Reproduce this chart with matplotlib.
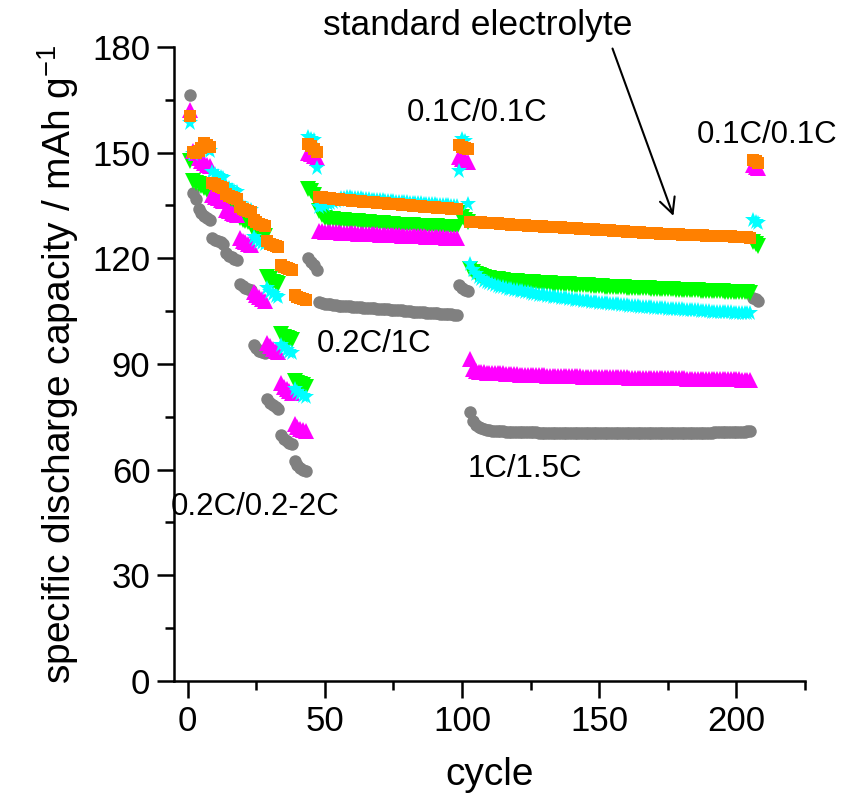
import numpy as np
import matplotlib
matplotlib.use("Agg")
import matplotlib.pyplot as plt
from matplotlib.ticker import MultipleLocator

plt.rcParams['font.family'] = ['Liberation Sans', 'DejaVu Sans']
plt.rcParams['mathtext.fontset'] = 'custom'
plt.rcParams['mathtext.rm'] = 'Liberation Sans'
plt.rcParams['mathtext.it'] = 'Liberation Sans:italic'

cycles = np.arange(1, 209)

# discharge capacity in mAh/g per cycle
# segments: 0.2C/0.2-2C (1-43), 0.1C (44-47), 0.2C/1C (48-98),
#           0.1C (99-102), 1C/1.5C (103-205), 0.1C (206-208)
gray = [
    166.5,
    138.5, 136.8, 134.0, 132.8, 132.0, 131.5, 131.0,
    125.8, 125.2, 124.8, 124.5, 124.2,
    121.5, 120.8, 120.3, 119.9, 119.5,
    112.7, 112.1, 111.7, 111.4, 111.1,
    95.3, 94.4, 93.8, 93.4, 93.0,
    80.2, 79.0, 78.3, 77.8, 77.3,
    69.9, 68.8, 68.2, 67.7, 67.3,
    62.5, 61.3, 60.5, 59.9, 59.5,
    120.0, 119.0, 118.0, 116.8,
    107.6, 107.3, 107.1, 107.0, 106.9, 106.8, 106.7, 106.6, 106.6, 106.5,
    106.4, 106.4, 106.3, 106.2, 106.2, 106.1, 106.0, 106.0, 105.9, 105.8,
    105.8, 105.7, 105.6, 105.6, 105.5, 105.5, 105.4, 105.3, 105.3, 105.2,
    105.2, 105.1, 105.0, 105.0, 104.9, 104.9, 104.8, 104.7, 104.7, 104.6,
    104.6, 104.5, 104.5, 104.4, 104.3, 104.3, 104.2, 104.2, 104.1, 104.0,
    104.0,
    112.3, 111.5, 111.0, 110.6,
    76.3, 73.8, 72.6, 72.0, 71.7, 71.5, 71.3, 71.2, 71.1, 71.0,
    71.0, 70.9, 70.9, 70.8, 70.8, 70.8, 70.7, 70.7, 70.7, 70.7,
    70.6, 70.6, 70.6, 70.6, 70.6, 70.5, 70.5, 70.5, 70.5, 70.5,
    70.5, 70.5, 70.4, 70.4, 70.4, 70.4, 70.4, 70.4, 70.4, 70.4,
    70.4, 70.4, 70.4, 70.4, 70.3, 70.3, 70.3, 70.3, 70.3, 70.3,
    70.3, 70.3, 70.3, 70.3, 70.3, 70.3, 70.3, 70.3, 70.3, 70.3,
    70.3, 70.3, 70.3, 70.3, 70.3, 70.3, 70.3, 70.3, 70.3, 70.3,
    70.3, 70.3, 70.4, 70.4, 70.4, 70.4, 70.4, 70.4, 70.4, 70.4,
    70.4, 70.4, 70.5, 70.5, 70.5, 70.5, 70.5, 70.5, 70.5, 70.6,
    70.6, 70.6, 70.6, 70.6, 70.7, 70.7, 70.7, 70.7, 70.8, 70.8,
    70.8, 70.9, 70.9,
    108.8, 108.4, 108.0,
]

green = [
    147.5,
    142.0, 141.5, 141.0, 140.5, 140.0, 139.5, 139.2,
    137.8, 137.2, 136.8, 136.4, 136.1,
    134.5, 134.0, 133.6, 133.2, 132.9,
    131.5, 131.0, 130.5, 130.2, 129.9,
    127.8, 127.2, 126.8, 126.5, 126.2,
    114.8, 114.0, 113.4, 113.0, 112.6,
    98.5, 97.8, 97.3, 97.0, 96.7,
    85.2, 84.6, 84.2, 83.9, 83.6,
    139.8, 139.0, 138.0, 136.0,
    133.5, 132.2, 131.5, 131.3, 131.2, 131.1, 131.0, 130.9, 130.9, 130.8,
    130.7, 130.7, 130.6, 130.5, 130.5, 130.4, 130.3, 130.3, 130.2, 130.1,
    130.1, 130.0, 129.9, 129.9, 129.8, 129.8, 129.7, 129.7, 129.6, 129.6,
    129.5, 129.5, 129.5, 129.4, 129.4, 129.3, 129.3, 129.3, 129.2, 129.2,
    129.2, 129.1, 129.1, 129.1, 129.0, 129.0, 129.0, 128.9, 128.9, 128.9,
    128.8,
    132.8, 131.8, 130.8, 130.2,
    117.0, 116.2, 115.6, 115.2, 114.9, 114.7, 114.5, 114.3, 114.2, 114.1,
    114.0, 113.9, 113.8, 113.7, 113.7, 113.6, 113.5, 113.5, 113.4, 113.4,
    113.3, 113.3, 113.2, 113.2, 113.1, 113.1, 113.0, 113.0, 112.9, 112.9,
    112.8, 112.8, 112.7, 112.7, 112.7, 112.6, 112.6, 112.5, 112.5, 112.4,
    112.4, 112.4, 112.3, 112.3, 112.2, 112.2, 112.2, 112.1, 112.1, 112.0,
    112.0, 112.0, 111.9, 111.9, 111.8, 111.8, 111.8, 111.7, 111.7, 111.7,
    111.6, 111.6, 111.6, 111.5, 111.5, 111.5, 111.4, 111.4, 111.4, 111.3,
    111.3, 111.3, 111.2, 111.2, 111.2, 111.1, 111.1, 111.1, 111.0, 111.0,
    111.0, 110.9, 110.9, 110.9, 110.8, 110.8, 110.8, 110.7, 110.7, 110.7,
    110.6, 110.6, 110.6, 110.5, 110.5, 110.5, 110.4, 110.4, 110.4, 110.3,
    110.3, 110.3, 110.2,
    124.5, 124.0, 123.6,
]

magenta = [
    162.0,
    150.5, 150.0, 148.5, 147.5, 147.0, 146.6, 146.3,
    138.0, 137.5, 137.0, 136.7, 136.4,
    133.8, 133.3, 133.0, 132.7, 132.4,
    125.8, 125.0, 124.5, 124.1, 123.8,
    110.5, 109.5, 108.9, 108.4, 108.0,
    96.0, 95.0, 94.3, 93.8, 93.4,
    84.5, 83.5, 82.8, 82.3, 81.9,
    73.0, 72.2, 71.6, 71.2, 70.9,
    150.0, 149.5, 149.0, 148.5,
    127.8, 127.7, 127.6, 127.6, 127.5, 127.5, 127.4, 127.4, 127.3, 127.3,
    127.2, 127.2, 127.1, 127.1, 127.0, 127.0, 127.0, 126.9, 126.9, 126.8,
    126.8, 126.8, 126.7, 126.7, 126.6, 126.6, 126.6, 126.5, 126.5, 126.5,
    126.4, 126.4, 126.4, 126.3, 126.3, 126.3, 126.2, 126.2, 126.2, 126.1,
    126.1, 126.1, 126.0, 126.0, 126.0, 126.0, 125.9, 125.9, 125.9, 125.9,
    125.8,
    148.8, 148.2, 147.8, 147.4,
    91.5, 88.6, 88.0, 87.8, 87.7, 87.6, 87.5, 87.5, 87.4, 87.4,
    87.3, 87.3, 87.3, 87.2, 87.2, 87.1, 87.1, 87.1, 87.0, 87.0,
    87.0, 86.9, 86.9, 86.9, 86.8, 86.8, 86.8, 86.8, 86.7, 86.7,
    86.7, 86.7, 86.6, 86.6, 86.6, 86.6, 86.5, 86.5, 86.5, 86.5,
    86.5, 86.4, 86.4, 86.4, 86.4, 86.4, 86.3, 86.3, 86.3, 86.3,
    86.3, 86.3, 86.2, 86.2, 86.2, 86.2, 86.2, 86.2, 86.1, 86.1,
    86.1, 86.1, 86.1, 86.1, 86.1, 86.0, 86.0, 86.0, 86.0, 86.0,
    86.0, 86.0, 85.9, 85.9, 85.9, 85.9, 85.9, 85.9, 85.9, 85.8,
    85.8, 85.8, 85.8, 85.8, 85.8, 85.8, 85.7, 85.7, 85.7, 85.7,
    85.7, 85.7, 85.7, 85.6, 85.6, 85.6, 85.6, 85.6, 85.6, 85.5,
    85.5, 85.5, 85.5,
    146.5, 146.0, 145.7,
]

cyan = [
    158.5,
    149.5, 149.8, 150.5, 151.0, 151.2, 151.0, 150.6,
    144.5, 143.8, 143.4, 143.0, 142.7,
    140.5, 139.9, 139.5, 139.1, 138.8,
    135.3, 134.7, 134.3, 134.0, 133.7,
    126.0, 125.2, 124.7, 124.3, 124.0,
    111.5, 110.5, 109.8, 109.3, 108.9,
    95.5, 94.5, 93.9, 93.5, 93.1,
    83.0, 82.0, 81.4, 81.0, 80.6,
    154.5, 154.0, 153.5, 145.6,
    134.6, 134.9, 135.2, 135.5, 135.8, 136.1, 136.4, 136.7, 137.0, 137.2,
    137.4, 137.3, 137.2, 137.2, 137.1, 137.0, 136.9, 136.9, 136.8, 136.7,
    136.7, 136.6, 136.5, 136.5, 136.4, 136.3, 136.3, 136.2, 136.1, 136.1,
    136.0, 135.9, 135.9, 135.8, 135.7, 135.7, 135.6, 135.6, 135.5, 135.4,
    135.4, 135.3, 135.3, 135.2, 135.1, 135.1, 135.0, 135.0, 134.9, 134.8,
    134.8,
    144.7, 153.8, 153.4, 135.3,
    118.5, 116.8, 115.6, 114.8, 114.2, 113.7, 113.3, 113.0, 112.7, 112.4,
    112.2, 112.0, 111.8, 111.6, 111.4, 111.2, 111.0, 110.9, 110.7, 110.6,
    110.4, 110.3, 110.1, 110.0, 109.9, 109.7, 109.6, 109.5, 109.4, 109.2,
    109.1, 109.0, 108.9, 108.8, 108.7, 108.6, 108.5, 108.4, 108.3, 108.2,
    108.1, 108.0, 107.9, 107.8, 107.7, 107.6, 107.5, 107.4, 107.4, 107.3,
    107.2, 107.1, 107.0, 107.0, 106.9, 106.8, 106.7, 106.7, 106.6, 106.5,
    106.5, 106.4, 106.3, 106.3, 106.2, 106.1, 106.1, 106.0, 106.0, 105.9,
    105.8, 105.8, 105.7, 105.7, 105.6, 105.6, 105.5, 105.5, 105.4, 105.4,
    105.3, 105.3, 105.2, 105.2, 105.1, 105.1, 105.0, 105.0, 104.9, 104.9,
    104.9, 104.8, 104.8, 104.7, 104.7, 104.7, 104.6, 104.6, 104.5, 104.5,
    104.5, 104.4, 104.4,
    130.8, 130.3, 129.9,
]

orange = [
    160.5,
    150.2, 150.0, 150.4, 151.2, 152.6, 152.3, 151.6,
    141.5, 141.0, 140.6, 140.3, 140.0,
    138.2, 137.7, 137.4, 137.1, 136.8,
    134.6, 134.1, 133.7, 133.4, 133.1,
    130.8, 130.2, 129.8, 129.4, 129.1,
    124.9, 124.2, 123.8, 123.5, 123.2,
    118.0, 117.6, 117.3, 117.0, 116.8,
    109.6, 109.1, 108.7, 108.4, 108.2,
    152.5, 151.8, 151.0, 150.2,
    137.5, 137.3, 137.2, 137.1, 137.0, 136.9, 136.9, 136.8, 136.7, 136.6,
    136.6, 136.5, 136.4, 136.4, 136.3, 136.2, 136.1, 136.1, 136.0, 135.9,
    135.9, 135.8, 135.7, 135.7, 135.6, 135.5, 135.5, 135.4, 135.3, 135.3,
    135.2, 135.1, 135.1, 135.0, 134.9, 134.9, 134.8, 134.8, 134.7, 134.6,
    134.6, 134.5, 134.5, 134.4, 134.3, 134.3, 134.2, 134.2, 134.1, 134.0,
    134.0,
    152.2, 151.7, 151.3, 151.0,
    130.4, 130.3, 130.3, 130.2, 130.2, 130.1, 130.1, 130.0, 130.0, 129.9,
    129.9, 129.8, 129.8, 129.7, 129.7, 129.6, 129.6, 129.5, 129.5, 129.4,
    129.4, 129.3, 129.3, 129.2, 129.2, 129.1, 129.1, 129.0, 129.0, 128.9,
    128.9, 128.8, 128.8, 128.8, 128.7, 128.7, 128.6, 128.6, 128.5, 128.5,
    128.4, 128.4, 128.3, 128.3, 128.2, 128.2, 128.1, 128.1, 128.0, 128.0,
    127.9, 127.9, 127.8, 127.8, 127.7, 127.7, 127.7, 127.6, 127.6, 127.5,
    127.5, 127.4, 127.4, 127.3, 127.3, 127.2, 127.2, 127.1, 127.1, 127.0,
    127.0, 126.9, 126.9, 126.9, 126.8, 126.8, 126.8, 126.7, 126.7, 126.7,
    126.6, 126.6, 126.6, 126.5, 126.5, 126.5, 126.4, 126.4, 126.4, 126.3,
    126.3, 126.3, 126.3, 126.2, 126.2, 126.2, 126.1, 126.1, 126.1, 126.0,
    126.0, 126.0, 125.9,
    148.0, 147.5, 147.2,
]

fig = plt.figure(figsize=(8.42, 8.06), dpi=100)
ax = fig.add_axes([0.2067, 0.1551, 0.7493, 0.7866])

ax.plot(cycles, gray, 'o', color='#808080', ms=9, mew=0, zorder=2)
ax.plot(cycles, green, 'v', color='#00ff00', ms=11, mew=0, zorder=3)
ax.plot(cycles, magenta, '^', color='#ff00ff', ms=11, mew=0, zorder=4)
ax.plot(cycles, cyan, '*', color='#00ffff', ms=12, mew=0, zorder=5)
ax.plot(cycles, orange, 's', color='#ff8000', ms=8.8, mew=0, zorder=6)

ax.set_xlim(-5, 225)
ax.set_ylim(0, 180)
ax.xaxis.set_major_locator(MultipleLocator(50))
ax.xaxis.set_minor_locator(MultipleLocator(25))
ax.yaxis.set_major_locator(MultipleLocator(30))
ax.yaxis.set_minor_locator(MultipleLocator(15))
ax.spines['top'].set_visible(False)
ax.spines['right'].set_visible(False)
for s in ['left', 'bottom']:
    ax.spines[s].set_linewidth(1.8)
ax.tick_params(which='major', direction='out', length=12, width=1.8,
               labelsize=25, pad=5)
ax.tick_params(which='minor', direction='out', length=6.5, width=1.8)

ax.set_xlabel('cycle', fontsize=28, labelpad=14)
ax.set_ylabel('specific discharge capacity / mAh g$^{-1}$', fontsize=28, labelpad=8)

lbl = dict(fontsize=22.5, ha='center', va='center')
ax.text(24.4, 49.3, '0.2C/0.2-2C', **lbl)
ax.text(67.8, 95.7, '0.2C/1C', **lbl)
ax.text(105.6, 161.3, '0.1C/0.1C', **lbl)
ax.text(122.8, 60.1, '1C/1.5C', **lbl)
ax.text(211.3, 155.0, '0.1C/0.1C', clip_on=False, **lbl)
ax.text(105.6, 186.0, 'standard electrolyte', clip_on=False, **dict(lbl, fontsize=25.5))

ax.annotate('', xy=(177.4, 131.3), xytext=(154.5, 180.3), annotation_clip=False,
            arrowprops=dict(arrowstyle='->', lw=1.5, color='black', mutation_scale=28))

fig.savefig('out.png', dpi=100)
